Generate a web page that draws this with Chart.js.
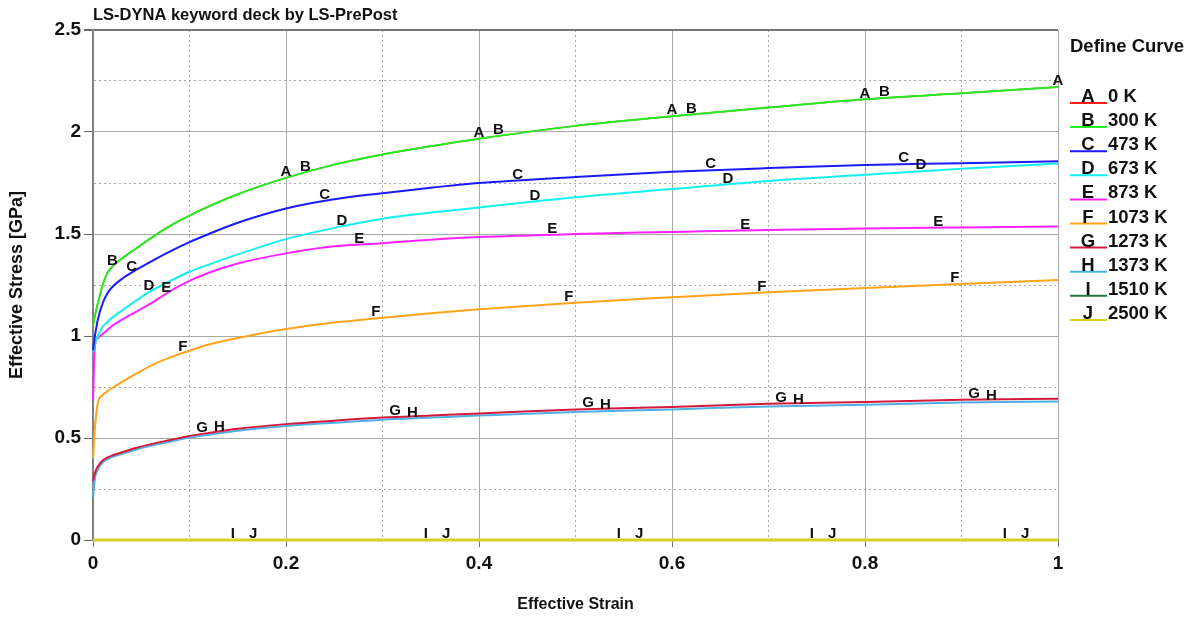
<!DOCTYPE html>
<html>
<head>
<meta charset="utf-8">
<title>LS-DYNA keyword deck by LS-PrePost</title>
<script src="https://cdn.jsdelivr.net/npm/chart.js@4.4.1/dist/chart.umd.min.js"></script>
<style>
  html, body { margin: 0; padding: 0; background: #fff; }
  #wrap { width: 1202px; height: 619px; position: relative; }
</style>
</head>
<body>
<div id="wrap"><canvas id="curves"></canvas></div>
<script>
// effective strain points shared by all curves
const strain = [0, 0.002, 0.005, 0.01, 0.015, 0.02, 0.03, 0.045, 0.06, 0.08, 0.1, 0.12, 0.15, 0.2, 0.25, 0.3, 0.35, 0.4, 0.5, 0.6, 0.7, 0.8, 0.9, 1.0];

// effective stress [GPa] for each temperature
const stress0K    = [1.05, 1.10, 1.16, 1.25, 1.31, 1.34, 1.38, 1.43, 1.48, 1.54, 1.59, 1.635, 1.695, 1.775, 1.84, 1.89, 1.93, 1.967, 2.03, 2.077, 2.12, 2.16, 2.19, 2.22];
const stress300K  = [1.05, 1.10, 1.16, 1.25, 1.31, 1.34, 1.38, 1.43, 1.48, 1.54, 1.59, 1.635, 1.695, 1.775, 1.84, 1.89, 1.93, 1.967, 2.03, 2.077, 2.12, 2.16, 2.19, 2.22];
const stress473K  = [0.93, 1.00, 1.08, 1.16, 1.21, 1.24, 1.28, 1.325, 1.365, 1.415, 1.46, 1.50, 1.555, 1.625, 1.67, 1.70, 1.727, 1.75, 1.78, 1.805, 1.823, 1.838, 1.847, 1.857];
const stress673K  = [0.92, 0.96, 1.00, 1.045, 1.07, 1.09, 1.125, 1.175, 1.22, 1.27, 1.315, 1.35, 1.40, 1.475, 1.53, 1.575, 1.605, 1.63, 1.68, 1.72, 1.76, 1.79, 1.82, 1.845];
const stress873K  = [0.68, 0.95, 0.99, 1.01, 1.03, 1.05, 1.08, 1.12, 1.16, 1.22, 1.27, 1.31, 1.355, 1.405, 1.44, 1.455, 1.472, 1.485, 1.50, 1.51, 1.52, 1.527, 1.532, 1.537];
const stress1073K = [0.40, 0.55, 0.67, 0.71, 0.73, 0.745, 0.775, 0.815, 0.855, 0.895, 0.928, 0.958, 0.99, 1.034, 1.066, 1.09, 1.112, 1.131, 1.163, 1.19, 1.215, 1.235, 1.255, 1.275];
const stress1273K = [0.29, 0.33, 0.36, 0.39, 0.405, 0.415, 0.43, 0.452, 0.47, 0.49, 0.51, 0.525, 0.545, 0.568, 0.585, 0.60, 0.61, 0.62, 0.64, 0.652, 0.668, 0.676, 0.688, 0.693];
const stress1373K = [0.21, 0.30, 0.345, 0.38, 0.397, 0.407, 0.422, 0.444, 0.462, 0.482, 0.502, 0.516, 0.536, 0.559, 0.575, 0.59, 0.60, 0.61, 0.628, 0.64, 0.655, 0.663, 0.674, 0.679];
const stress1510K = [0, 0, 0, 0, 0, 0, 0, 0, 0, 0, 0, 0, 0, 0, 0, 0, 0, 0, 0, 0, 0, 0, 0, 0];
const stress2500K = [0, 0, 0, 0, 0, 0, 0, 0, 0, 0, 0, 0, 0, 0, 0, 0, 0, 0, 0, 0, 0, 0, 0, 0];

const curveLetters = ['A', 'B', 'C', 'D', 'E', 'F', 'G', 'H', 'I', 'J'];
const curveNames = ['0 K', '300 K', '473 K', '673 K', '873 K', '1073 K', '1273 K', '1373 K', '1510 K', '2500 K'];
const curveStress = [stress0K, stress300K, stress473K, stress673K, stress873K, stress1073K, stress1273K, stress1373K, stress1510K, stress2500K];
// strain of the first letter marker on each curve, then every 0.2
const markerStart = [0.2, 0.02, 0.04, 0.058, 0.076, 0.093, 0.113, 0.131, 0.145, 0.166];
const markerStep = 0.2;

const xTickLabels = ['0', '0.2', '0.4', '0.6', '0.8', '1'];
const yTickLabels = ['0', '0.5', '1', '1.5', '2', '2.5'];

const curveColors = ['#ff1a1a', '#22ee22', '#1a1aff', '#14f0f0', '#ff22ff', '#ffa31a', '#d41a3c', '#4fb0e6', '#1f7a3a', '#d6d21e'];
const FONT = "'Liberation Sans', Arial, sans-serif";

const datasets = curveStress.map((vals, i) => ({
  label: curveLetters[i] + ' ' + curveNames[i],
  data: strain.map((x, k) => ({ x: x, y: vals[k] })),
  borderColor: curveColors[i],
  backgroundColor: curveColors[i],
  borderWidth: i === 9 ? 3 : (i === 0 ? 1.5 : 2),
  pointRadius: 0,
  cubicInterpolationMode: 'monotone',
  clip: false,
  // the lower temperature of each overlapping pair sits underneath
  order: (i === 0 || i === 7 || i === 8) ? 2 : 1
}));

function stressAt(vals, x) {
  for (let k = 1; k < strain.length; k++) {
    if (x <= strain[k]) {
      const t = (x - strain[k - 1]) / (strain[k] - strain[k - 1]);
      return vals[k - 1] + t * (vals[k] - vals[k - 1]);
    }
  }
  return vals[vals.length - 1];
}

// curve letters along each line
const curveMarkers = {
  id: 'curveMarkers',
  afterDatasetsDraw(chart) {
    const ctx = chart.ctx;
    const xs = chart.scales.x, ys = chart.scales.y;
    ctx.save();
    ctx.font = 'bold 15px ' + FONT;
    ctx.fillStyle = '#111';
    ctx.textAlign = 'center';
    ctx.textBaseline = 'middle';
    curveStress.forEach((vals, i) => {
      for (let x = markerStart[i]; x <= 1.0001; x += markerStep) {
        const px = xs.getPixelForValue(x);
        const py = ys.getPixelForValue(stressAt(vals, x));
        ctx.fillText(curveLetters[i], px, py - 6);
      }
    });
    ctx.restore();
  }
};

// title over the plot and the "Define Curve" key on the right
const deckDecor = {
  id: 'deckDecor',
  afterDraw(chart) {
    const ctx = chart.ctx;
    const area = chart.chartArea;
    ctx.save();
    ctx.fillStyle = '#111';
    ctx.textBaseline = 'middle';
    ctx.textAlign = 'left';
    ctx.font = 'bold 16.5px ' + FONT;
    ctx.fillText('LS-DYNA keyword deck by LS-PrePost', area.left, 15);

    const keyX = area.right + 12;
    ctx.font = 'bold 18.5px ' + FONT;
    ctx.fillText('Define Curve', keyX, 47);
    curveLetters.forEach((letter, i) => {
      const y = 97 + i * 24.1;
      ctx.strokeStyle = curveColors[i];
      ctx.lineWidth = 2;
      ctx.beginPath();
      ctx.moveTo(keyX, y + 6);
      ctx.lineTo(keyX + 37, y + 6);
      ctx.stroke();
      ctx.fillStyle = '#111';
      ctx.textAlign = 'center';
      ctx.font = 'bold 18.5px ' + FONT;
      ctx.fillText(letter, keyX + 18, y);
      ctx.textAlign = 'left';
      ctx.fillText(curveNames[i], keyX + 38, y);
    });
    ctx.restore();
  }
};

const gridGray = '#a9a9a9';

new Chart(document.getElementById('curves'), {
  type: 'line',
  data: { datasets: datasets },
  options: {
    responsive: true,
    maintainAspectRatio: false,
    animation: false,
    layout: { padding: { top: 30, right: 144, left: 0, bottom: 0 } },
    plugins: {
      legend: { display: false },
      tooltip: { enabled: false }
    },
    scales: {
      x: {
        type: 'linear',
        min: 0,
        max: 1,
        afterFit: (scale) => { scale.height = 79; },
        ticks: {
          stepSize: 0.1,
          color: '#111',
          padding: 5,
          maxRotation: 0,
          autoSkip: false,
          font: { family: FONT, size: 19, weight: 'bold' },
          callback: (value, index) => index % 2 === 0 ? xTickLabels[index / 2] : ''
        },
        grid: {
          color: gridGray,
          lineWidth: 1,
          tickLength: 7,
          tickColor: (c) => c.index % 2 === 0 ? '#777' : 'transparent'
        },
        border: {
          display: true,
          color: '#888',
          width: 2,
          dash: (c) => c.index % 2 === 1 ? [2, 3] : []
        },
        title: {
          display: true,
          text: 'Effective Strain',
          color: '#111',
          padding: { top: 0, bottom: 5 },
          font: { family: FONT, size: 16, weight: 'bold' }
        }
      },
      y: {
        min: 0,
        max: 2.5,
        afterFit: (scale) => { scale.width = 93; },
        ticks: {
          stepSize: 0.25,
          color: '#111',
          padding: 3,
          autoSkip: false,
          font: { family: FONT, size: 19, weight: 'bold' },
          callback: (value, index) => index % 2 === 0 ? yTickLabels[index / 2] : ''
        },
        grid: {
          color: (c) => c.index === 10 ? '#777' : gridGray,
          lineWidth: (c) => c.index === 10 ? 2 : 1,
          tickLength: 9,
          tickColor: (c) => c.index % 2 === 0 ? '#666' : 'transparent'
        },
        border: {
          display: true,
          color: '#808080',
          width: 2,
          dash: (c) => c.index % 2 === 1 ? [2, 3] : []
        },
        title: {
          display: true,
          text: 'Effective Stress [GPa]',
          color: '#111',
          padding: { top: 6, bottom: 0 },
          font: { family: FONT, size: 18, weight: 'bold' }
        }
      }
    }
  },
  plugins: [curveMarkers, deckDecor]
});
</script>
</body>
</html>
